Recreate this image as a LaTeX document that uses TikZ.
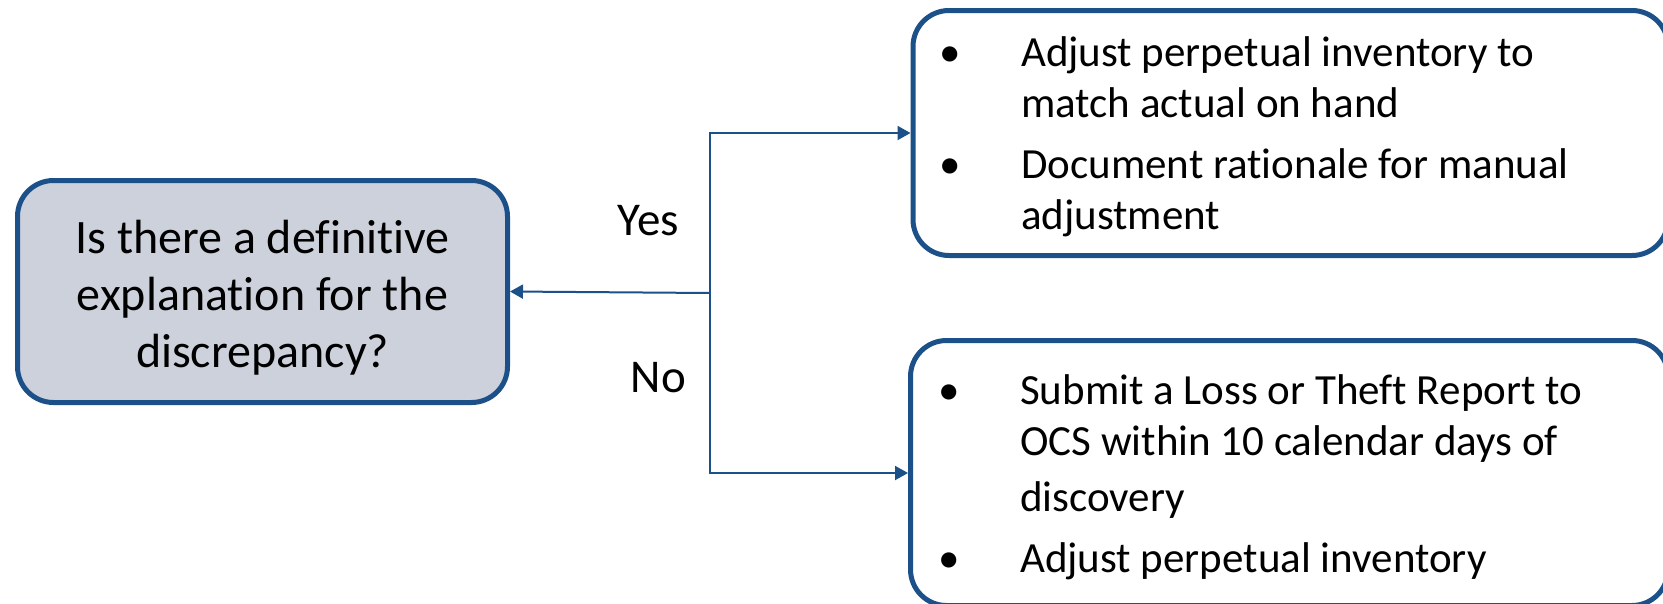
\documentclass[tikz,border=0pt]{standalone}
\usepackage{fontspec}
\setmainfont{Carlito}[Ligatures=NoCommon]
\usetikzlibrary{arrows.meta}
\definecolor{bordblue}{RGB}{28,80,136}
\definecolor{boxfill}{RGB}{204,209,219}
\tikzset{
  rbox/.style={draw=bordblue, line width=5pt, rounded corners=36pt, inner sep=0pt, anchor=center},
  conn/.style={draw=bordblue, line width=2pt, -{Triangle[length=13pt,width=14pt]}},
  lbl/.style={font=\fontsize{43}{51}\selectfont, inner sep=0pt},
  branchlbl/.style={font=\fontsize{47}{51}\selectfont, inner sep=0pt},
}
\newcommand{\bulx}{\leavevmode\llap{\makebox[142pt]{•}}}
\begin{document}
\begin{tikzpicture}[x=1pt,y=-1pt]
\useasboundingbox (0,0) rectangle (1663,603);
% left decision box
\node[rbox, fill=boxfill, minimum width=490pt, minimum height=222pt,
      align=center, font=\fontsize{48}{57}\selectfont] (q) at (262.5,291.5)
  {\rule{0pt}{46pt}Is there a definitive\\explanation for the\\discrepancy?};
% right boxes
\node[rbox, minimum width=755pt, minimum height=245pt] (yesbox) at (1290.5,133) {};
\node[rbox, minimum width=757.5pt, minimum height=265pt] (nobox) at (1289.25,473) {};
% texts of right boxes
\node[lbl, anchor=base west] (yestext) at (1021,66)
  {\parbox[t]{640pt}{\bulx Adjust perpetual inventory to\\match actual on hand\\[10pt]\bulx Document rationale for manual\\adjustment}};
\node[lbl, anchor=base west] (notext) at (1020,404)
  {\parbox[t]{640pt}{\bulx Submit a Loss or Theft Report to\\OCS within 10 calendar days of\\[5pt]discovery\\[10pt]\bulx Adjust perpetual inventory}};
% connectors
\coordinate (j) at (710,293);
\coordinate (jt) at (710,133);
\coordinate (jb) at (710,473);
\draw[conn] (j) -- (q.east);
\draw[conn] (j) -- (jt) -- (yesbox.west);
\draw[conn] (j) -- (jb) -- (nobox.west);
% labels
\node[branchlbl, anchor=base east] (yes) at (679,235) {Yes};
\node[branchlbl, anchor=base east] (no) at (686,392) {No};
\end{tikzpicture}
\end{document}
